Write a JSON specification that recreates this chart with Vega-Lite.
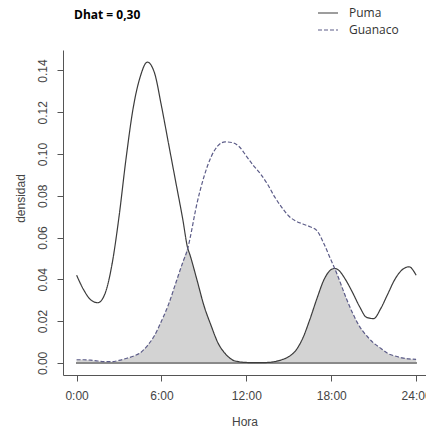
{
  "$schema": "https://vega.github.io/schema/vega-lite/v6.json",
  "width": 363,
  "height": 325,
  "autosize": {"type": "none"},
  "padding": {"left": 63, "top": 50, "right": 0, "bottom": 53},
  "background": "white",
  "config": {"view": {"stroke": null}, "font": "Liberation Sans"},
  "title": {"text": "Dhat = 0,30", "anchor": "start", "frame": "group", "font": "Open Sans", "fontSize": 12, "fontWeight": "bold", "color": "#000000", "dx": 11, "offset": -20},
  "data": {"values": [
    {"h": 0, "Puma": 0.042, "Guanaco": 0.0015, "overlap": 0.0015},
    {"h": 0.5, "Puma": 0.035, "Guanaco": 0.0015, "overlap": 0.0015},
    {"h": 1, "Puma": 0.0302, "Guanaco": 0.0013, "overlap": 0.0013},
    {"h": 1.5, "Puma": 0.0288, "Guanaco": 0.0009, "overlap": 0.0009},
    {"h": 2, "Puma": 0.033, "Guanaco": 0.0006, "overlap": 0.0006},
    {"h": 2.5, "Puma": 0.047, "Guanaco": 0.0006, "overlap": 0.0006},
    {"h": 3, "Puma": 0.07, "Guanaco": 0.0012, "overlap": 0.0012},
    {"h": 3.5, "Puma": 0.098, "Guanaco": 0.0021, "overlap": 0.0021},
    {"h": 4, "Puma": 0.122, "Guanaco": 0.0032, "overlap": 0.0032},
    {"h": 4.5, "Puma": 0.137, "Guanaco": 0.0048, "overlap": 0.0048},
    {"h": 5, "Puma": 0.144, "Guanaco": 0.0082, "overlap": 0.0082},
    {"h": 5.5, "Puma": 0.139, "Guanaco": 0.013, "overlap": 0.013},
    {"h": 6, "Puma": 0.123, "Guanaco": 0.02, "overlap": 0.02},
    {"h": 6.5, "Puma": 0.105, "Guanaco": 0.028, "overlap": 0.028},
    {"h": 7, "Puma": 0.087, "Guanaco": 0.038, "overlap": 0.038},
    {"h": 7.5, "Puma": 0.069, "Guanaco": 0.048, "overlap": 0.048},
    {"h": 7.86, "Puma": 0.0548, "Guanaco": 0.0548, "overlap": 0.0548},
    {"h": 8, "Puma": 0.052, "Guanaco": 0.059, "overlap": 0.052},
    {"h": 8.5, "Puma": 0.04, "Guanaco": 0.076, "overlap": 0.04},
    {"h": 9, "Puma": 0.0275, "Guanaco": 0.089, "overlap": 0.0275},
    {"h": 9.5, "Puma": 0.018, "Guanaco": 0.0985, "overlap": 0.018},
    {"h": 10, "Puma": 0.0095, "Guanaco": 0.104, "overlap": 0.0095},
    {"h": 10.5, "Puma": 0.0045, "Guanaco": 0.1058, "overlap": 0.0045},
    {"h": 11, "Puma": 0.0015, "Guanaco": 0.1055, "overlap": 0.0015},
    {"h": 11.5, "Puma": 0.0005, "Guanaco": 0.1035, "overlap": 0.0005},
    {"h": 12, "Puma": 0.0002, "Guanaco": 0.099, "overlap": 0.0002},
    {"h": 12.5, "Puma": 0.0001, "Guanaco": 0.0945, "overlap": 0.0001},
    {"h": 13, "Puma": 0.0001, "Guanaco": 0.0905, "overlap": 0.0001},
    {"h": 13.5, "Puma": 0.0002, "Guanaco": 0.0855, "overlap": 0.0002},
    {"h": 14, "Puma": 0.0006, "Guanaco": 0.0795, "overlap": 0.0006},
    {"h": 14.5, "Puma": 0.0015, "Guanaco": 0.0745, "overlap": 0.0015},
    {"h": 15, "Puma": 0.003, "Guanaco": 0.0703, "overlap": 0.003},
    {"h": 15.5, "Puma": 0.006, "Guanaco": 0.0679, "overlap": 0.006},
    {"h": 16, "Puma": 0.012, "Guanaco": 0.0665, "overlap": 0.012},
    {"h": 16.5, "Puma": 0.021, "Guanaco": 0.0652, "overlap": 0.021},
    {"h": 17, "Puma": 0.031, "Guanaco": 0.0632, "overlap": 0.031},
    {"h": 17.5, "Puma": 0.04, "Guanaco": 0.0568, "overlap": 0.04},
    {"h": 18, "Puma": 0.0447, "Guanaco": 0.049, "overlap": 0.0447},
    {"h": 18.25, "Puma": 0.0452, "Guanaco": 0.0452, "overlap": 0.0452},
    {"h": 18.5, "Puma": 0.0445, "Guanaco": 0.041, "overlap": 0.041},
    {"h": 19, "Puma": 0.04, "Guanaco": 0.032, "overlap": 0.032},
    {"h": 19.5, "Puma": 0.0338, "Guanaco": 0.024, "overlap": 0.024},
    {"h": 20, "Puma": 0.027, "Guanaco": 0.0175, "overlap": 0.0175},
    {"h": 20.5, "Puma": 0.0218, "Guanaco": 0.013, "overlap": 0.013},
    {"h": 21, "Puma": 0.0212, "Guanaco": 0.0095, "overlap": 0.0095},
    {"h": 21.5, "Puma": 0.026, "Guanaco": 0.007, "overlap": 0.007},
    {"h": 22, "Puma": 0.033, "Guanaco": 0.0045, "overlap": 0.0045},
    {"h": 22.5, "Puma": 0.04, "Guanaco": 0.0033, "overlap": 0.0033},
    {"h": 23, "Puma": 0.0445, "Guanaco": 0.0024, "overlap": 0.0024},
    {"h": 23.5, "Puma": 0.046, "Guanaco": 0.0019, "overlap": 0.0019},
    {"h": 24, "Puma": 0.042, "Guanaco": 0.0017, "overlap": 0.0017}
  ]},
  "encoding": {
    "x": {"field": "h", "type": "quantitative",
      "scale": {"domain": [-0.96, 24.7], "nice": false, "zero": false},
      "axis": {"values": [0, 6, 12, 18, 24], "labelExpr": "datum.value + ':00'", "grid": false,
        "domainColor": "#555555", "tickColor": "#555555", "tickSize": 6, "labelPadding": 9,
        "labelFont": "Liberation Sans", "labelFontSize": 12, "labelColor": "#444444", "labelFlush": false,
        "title": "Hora", "titleFont": "Liberation Sans", "titleFontSize": 12, "titleFontWeight": "normal", "titleColor": "#444444",
        "titleY": 46, "titleBaseline": "middle"}}
  },
  "layer": [
    {"mark": {"type": "area", "color": "#d3d3d3", "opacity": 1, "interpolate": "monotone"},
     "encoding": {
       "y": {"field": "overlap", "type": "quantitative",
         "scale": {"domain": [-0.0058, 0.1498], "nice": false, "zero": false},
         "axis": {"values": [0, 0.02, 0.04, 0.06, 0.08, 0.1, 0.12, 0.14], "format": ".2f", "grid": false,
           "domainColor": "#555555", "tickColor": "#555555", "tickSize": 6, "labelPadding": 8,
           "labelAngle": -90, "labelAlign": "center", "labelBaseline": "bottom",
           "labelFont": "Liberation Sans", "labelFontSize": 12, "labelColor": "#444444", "labelFlush": false,
           "title": "densidad", "titleFont": "Liberation Sans", "titleFontSize": 12, "titleFontWeight": "normal", "titleColor": "#444444",
           "titleX": -43, "titleY": 148, "titleAngle": -90, "titleAlign": "center", "titleBaseline": "middle"}},
       "y2": {"datum": 0}}},
    {"mark": {"type": "rule", "color": "#8a8a8a", "strokeWidth": 1.2},
     "encoding": {"x": {"datum": 0}, "x2": {"datum": 24}, "y": {"datum": 0}}},
    {"transform": [{"fold": ["Puma", "Guanaco"], "as": ["especie", "dens"]}],
     "mark": {"type": "line", "interpolate": "monotone", "strokeWidth": 1.2},
     "encoding": {
       "y": {"field": "dens", "type": "quantitative"},
       "color": {"field": "especie", "type": "nominal",
         "scale": {"domain": ["Puma", "Guanaco"], "range": ["#3c3c3c", "#5c5c88"]},
         "legend": {"orient": "none", "legendX": 254, "legendY": -48, "title": null,
           "symbolType": "stroke", "symbolSize": 400, "symbolStrokeWidth": 1.2,
           "labelFont": "Open Sans", "labelFontSize": 12, "labelColor": "#333333", "rowPadding": -6, "labelOffset": 10}},
       "strokeDash": {"field": "especie", "type": "nominal",
         "scale": {"domain": ["Puma", "Guanaco"], "range": [[1, 0], [4, 2]]}}}}
  ]
}
